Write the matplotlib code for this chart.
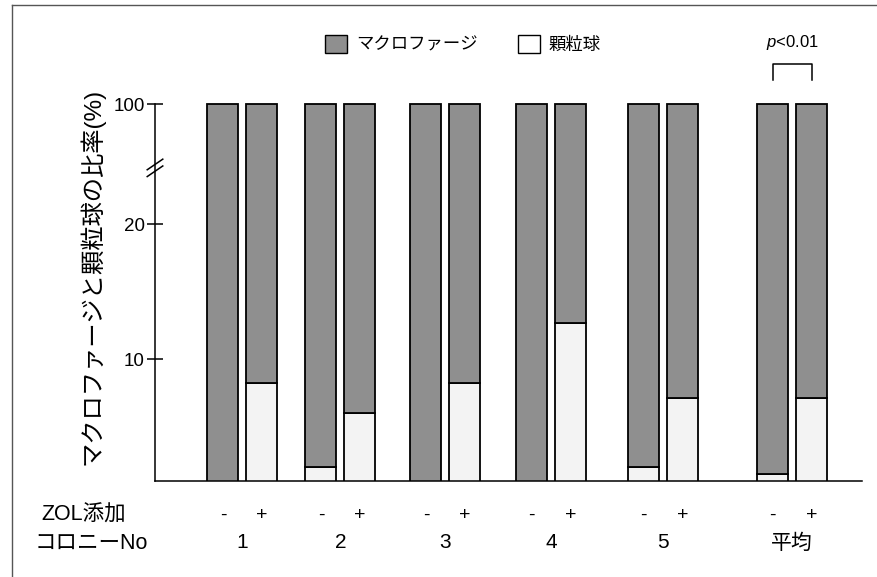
import numpy as np
import matplotlib
matplotlib.use('Agg')
import matplotlib.pyplot as plt
from matplotlib.patches import Patch
from matplotlib.lines import Line2D

plt.rcParams['font.family'] = ['Liberation Sans', 'Noto Sans CJK JP']
plt.rcParams['mathtext.fontset'] = 'custom'
plt.rcParams['mathtext.it'] = 'Liberation Sans:italic'
plt.rcParams['mathtext.rm'] = 'Liberation Sans'

# granulocyte share (%) per colony, without / with ZOL
colonies = ['1', '2', '3', '4', '5', '平均']
gran_minus = [0.0, 2.0, 0.0, 0.0, 2.0, 1.5]
gran_plus = [8.2, 6.0, 8.2, 12.7, 7.1, 7.1]
macro_minus = [100 - g for g in gran_minus]
macro_plus = [100 - g for g in gran_plus]
yticks = [10, 20, 100]

GRAY = '#8f8f8f'
LIGHT = '#f3f3f3'

# broken y axis: linear up to 20, compressed above
def fwd(v):
    v = np.asarray(v, dtype=float)
    return np.where(v <= 20, v, 20 + (v - 20) / 9.0)

def inv(u):
    u = np.asarray(u, dtype=float)
    return np.where(u <= 20, u, 20 + (u - 20) * 9.0)

W, H = 878, 577
fig = plt.figure(figsize=(W / 100, H / 100), dpi=100)
ax = fig.add_axes([155 / W, (H - 481) / H, (862 - 155) / W, (481 - 102.5) / H])
ax.set_yscale('function', functions=(fwd, inv))
ax.set_xlim(155, 862)
ax.set_ylim(0.963, 101)

centers = [242.5, 340.5, 445.5, 551.25, 663.25, 792.25]
off = 19.5
bw = 31
xm = [c - off for c in centers]
xp = [c + off for c in centers]

for xs, gran, mac in [(xm, gran_minus, macro_minus), (xp, gran_plus, macro_plus)]:
    ax.bar(xs, gran, width=bw, bottom=0, color=LIGHT, edgecolor='black', linewidth=1.3)
    ax.bar(xs, mac, width=bw, bottom=gran, color=GRAY, edgecolor='black', linewidth=1.3)

for s in ['top', 'right']:
    ax.spines[s].set_visible(False)
ax.spines['left'].set_bounds(0.963, 100)
ax.spines['left'].set_linewidth(1.1)
ax.spines['bottom'].set_linewidth(1.1)
ax.set_yticks(yticks)
ax.set_yticklabels([str(t) for t in yticks])
ax.yaxis.set_minor_locator(matplotlib.ticker.NullLocator())
ax.tick_params(axis='y', direction='inout', length=11, width=1.1, labelsize=13.5, pad=2)
ax.set_xticks([])

# break marks on y axis
yb = (481 - 169) / (481 - 102.5)
for dy in (-0.006, 0.012):
    ax.plot([-0.011, 0.011], [yb + dy - 0.014, yb + dy + 0.014], transform=ax.transAxes,
            color='black', lw=1.1, clip_on=False)

fig.text(92 / W, 1 - 276 / H, 'マクロファージと顆粒球の比率(%)', rotation=90,
         ha='center', va='center', fontsize=17.5)

# labels under the bars
tr = ax.get_xaxis_transform()
ax_h = 481 - 102.5
y1 = -(515 - 481) / ax_h
y2 = -(543 - 481) / ax_h
ax.text(41, y1, 'ZOL添加', transform=tr, ha='left', va='center', fontsize=15.5, clip_on=False)
ax.text(35, y2, 'コロニーNo', transform=tr, ha='left', va='center', fontsize=15.5, clip_on=False)
for i, name in enumerate(colonies):
    ax.text(xm[i], y1, '-', transform=tr, ha='center', va='center', fontsize=14, clip_on=False)
    ax.text(xp[i], y1, '+', transform=tr, ha='center', va='center', fontsize=14, clip_on=False)
    ax.text(centers[i], y2, name, transform=tr, ha='center', va='center', fontsize=15, clip_on=False)

# significance bracket for the mean
yl = 1 + (102.5 - 80) / ax_h
yt = 1 + (102.5 - 64) / ax_h
ax.plot([xm[5], xm[5], xp[5], xp[5]], [yl, yt, yt, yl], transform=tr, color='black',
        lw=1.1, clip_on=False)
ax.text(centers[5], 1 + (102.5 - 42) / ax_h, '$p$<0.01', transform=tr, ha='center',
        va='center', fontsize=12, clip_on=False)

handles = [Patch(facecolor=GRAY, edgecolor='black', linewidth=1.0, label='マクロファージ'),
           Patch(facecolor='white', edgecolor='black', linewidth=1.0, label='顆粒球')]
fig.legend(handles=handles, loc='center', bbox_to_anchor=(463 / W, 1 - 44 / H), ncol=2,
           frameon=False, fontsize=12.5, handlelength=1.3, handleheight=1.3,
           handletextpad=0.5, columnspacing=2.3)

# scan frame (left and top edges)
fig.add_artist(Line2D([12 / W, 12 / W], [0, 1 - 5 / H], color='#555555', lw=1.0))
fig.add_artist(Line2D([12 / W, 1], [1 - 5 / H, 1 - 5 / H], color='#555555', lw=1.0))

fig.savefig('out.png', dpi=100)
